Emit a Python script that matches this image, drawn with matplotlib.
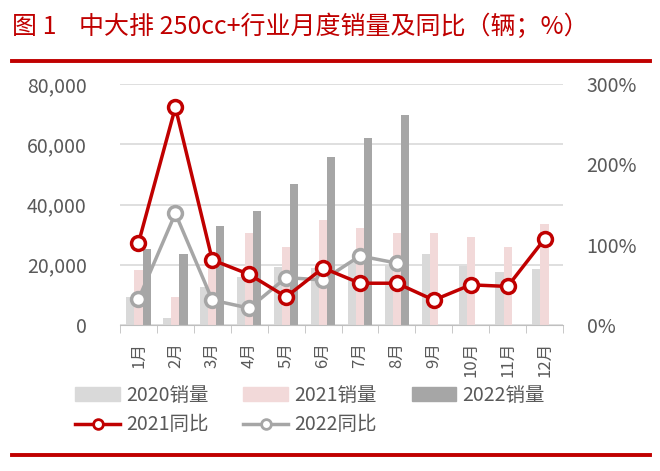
import numpy as np
import matplotlib.pyplot as plt
from matplotlib.patches import Patch
from matplotlib.lines import Line2D

plt.rcParams['font.family'] = ['Noto Sans CJK SC', 'DejaVu Sans']

# monthly sales (units) and yoy growth (%)
months = ['1月', '2月', '3月', '4月', '5月', '6月', '7月', '8月', '9月', '10月', '11月', '12月']
sales_2020 = [9400, 2400, 12700, 16000, 19400, 19000, 21000, 20000, 23500, 19700, 17700, 18500]
sales_2021 = [18300, 9400, 21500, 30500, 26000, 34900, 32300, 30400, 30400, 29100, 26000, 33500]
sales_2022 = [25200, 23600, 33000, 37900, 46800, 55700, 62200, 69700]
yoy_2021 = [102, 271, 81, 63, 35, 71, 52, 52, 31, 50, 48, 107]
yoy_2022 = [32, 139, 31, 21, 59, 56, 86, 77]

red = '#c00000'
grey_txt = '#595959'
c2020 = '#d9d9d9'
c2021 = '#f2d9d9'
c2022 = '#a6a6a6'
cline22 = '#a6a6a6'

fig = plt.figure(figsize=(6.6, 4.71), dpi=100)
ax = fig.add_axes([120 / 660, 1 - 325 / 471, 443 / 660, 241 / 471])
x = np.arange(len(months))
w = 0.22

ax.bar(x - w, sales_2020, w, color=c2020, zorder=2)
ax.bar(x, sales_2021, w, color=c2021, zorder=2)
ax.bar(np.arange(len(sales_2022)) + w, sales_2022, w, color=c2022, zorder=2)

ax.set_xlim(-0.5, len(months) - 0.5)
ax.set_ylim(0, 80000)
ax.set_yticks(np.arange(0, 80001, 20000))
ax.set_yticklabels([f'{v:,}' for v in range(0, 80001, 20000)])
ax.grid(axis='y', color='#d9d9d9', lw=1.2, zorder=0)
for s in ['top', 'right', 'left']:
    ax.spines[s].set_visible(False)
ax.spines['bottom'].set_color('#bfbfbf')
ax.tick_params(axis='y', length=0, labelsize=14, labelcolor=grey_txt, pad=24)
ax.set_xticks(x)
ax.set_xticklabels(months, rotation=90, fontsize=12, color=grey_txt)
ax.tick_params(axis='x', length=0, pad=12)
ax.set_xticks(np.arange(-0.5, len(months)), minor=True)
ax.tick_params(axis='x', which='minor', length=6, color='#bfbfbf')

ax2 = ax.twinx()
ax2.set_ylim(0, 300)
ax2.set_yticks([0, 100, 200, 300])
ax2.set_yticklabels(['0%', '100%', '200%', '300%'])
ax2.tick_params(axis='y', length=0, labelsize=14, labelcolor=grey_txt, pad=17)
for s in ax2.spines.values():
    s.set_visible(False)
ax2.plot(np.arange(len(yoy_2022)), yoy_2022, color=cline22, lw=2.5, marker='o', ms=10,
         mfc='white', mec=cline22, mew=2.5, zorder=3)
ax2.plot(x, yoy_2021, color=red, lw=2.5, marker='o', ms=10,
         mfc='white', mec=red, mew=2.5, zorder=4)

# title and red rules
fig.text(12 / 660, 1 - 27 / 471, '图 1    中大排 250cc+行业月度销量及同比（辆；%）',
         color=red, fontsize=18, va='center', ha='left')
for yy in [61, 455]:
    fig.add_artist(Line2D([12 / 660, 650 / 660], [1 - yy / 471] * 2, color=red, lw=2.8))

handles = [Patch(color=c2020), Line2D([], [], color=red, lw=2.5, marker='o', ms=7, mfc='white', mec=red, mew=2),
           Patch(color=c2021), Line2D([], [], color=cline22, lw=2.5, marker='o', ms=7, mfc='white', mec=cline22, mew=2),
           Patch(color=c2022)]
labels = ['2020销量', '2021同比', '2021销量', '2022同比', '2022销量']
fig.legend(handles, labels, ncol=3, loc='center', bbox_to_anchor=(310 / 660, 1 - 410 / 471),
           frameon=False, fontsize=14, handlelength=2.3, handleheight=0.7, handletextpad=0.3,
           columnspacing=1.8, labelspacing=0.45, labelcolor=grey_txt)

fig.savefig('out.png', dpi=100)
